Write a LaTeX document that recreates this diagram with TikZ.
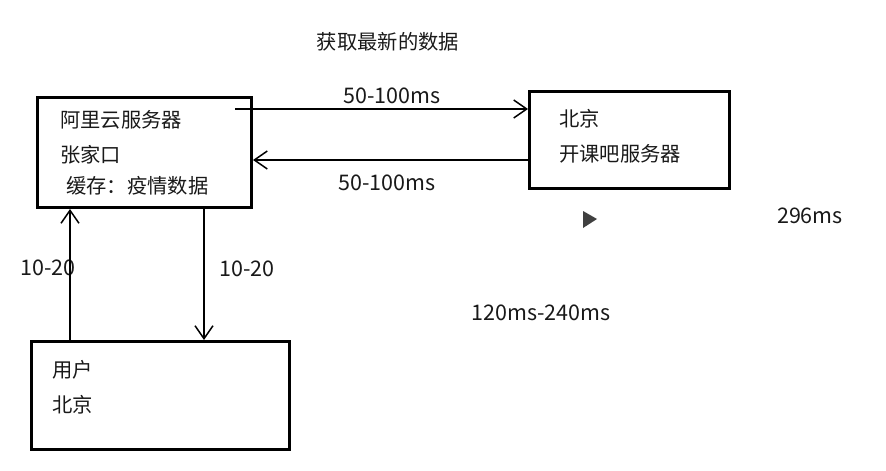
\documentclass[tikz,border=0pt]{standalone}
\usepackage{fontspec}
\setmainfont{Noto Sans CJK SC}
\usetikzlibrary{arrows.meta}
\tikzset{
  box/.style={draw=black, line width=3pt, minimum width=#1, inner sep=0pt, anchor=north west},
  txt/.style={inner sep=0pt, font=\fontsize{20.3}{24}\selectfont, text=black!90},
  num/.style={txt, font=\fontsize{21.5}{24}\selectfont},
  lnk/.style={line width=1.5pt, -{Straight Barb[length=13pt,width=18pt,line width=1.5pt]}},
}
\begin{document}
\begin{tikzpicture}[x=1pt,y=-1pt]
\useasboundingbox (0,0) rectangle (886,471);
% boxes
\node[box=214pt, minimum height=110pt] (ali) at (36,96) {};
\node[box=200pt, minimum height=97pt] (kkb) at (528,90) {};
\node[box=258pt, minimum height=108pt] (user) at (30,340) {};
% texts
\node[txt, anchor=west] (t1) at (60,120) {阿里云服务器};
\node[txt, anchor=west] (t2) at (60,155) {张家口};
\node[txt, anchor=west] (t3) at (66,186) {缓存：疫情数据};
\node[txt, anchor=west] (k1) at (559,119) {北京};
\node[txt, anchor=west] (k2) at (559,154) {开课吧服务器};
\node[txt, anchor=west] (u1) at (52,370) {用户};
\node[txt, anchor=west] (u2) at (52,405) {北京};
\node[txt] (title) at (388,42) {获取最新的数据};
\node[num] (l1) at (392,96) {50-100ms};
\node[num] (l2) at (387,183) {50-100ms};
\node[num] (l3) at (48,268) {10-20};
\node[num] (l4) at (247,269) {10-20};
\node[num] (l5) at (810,216) {296ms};
\node[num] (l6) at (541,313) {120ms-240ms};
% play triangle
\fill[black!75] (583,211) -- (597,219) -- (583,228) -- cycle;
% connectors
\coordinate (a) at (235,109);
\coordinate (b) at (0,160);
\coordinate (c) at (70,0);
\coordinate (d) at (204,0);
\draw[lnk] (a) -- (a -| kkb.west);
\draw[lnk] (b -| kkb.west) -- (b -| ali.east);
\draw[lnk] (c |- user.north) -- (c |- ali.south);
\draw[lnk] (d |- ali.south) -- (d |- user.north);
\end{tikzpicture}
\end{document}
